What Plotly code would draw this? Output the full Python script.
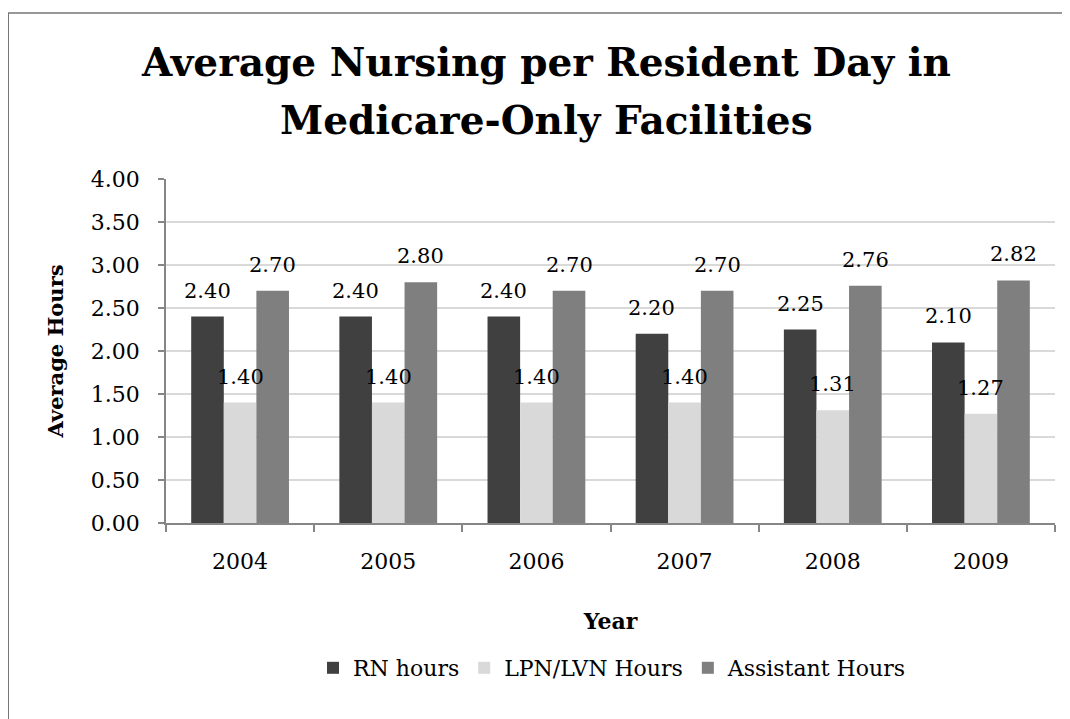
import plotly.graph_objects as go

YEARS = ["2004", "2005", "2006", "2007", "2008", "2009"]
RN_HOURS = [2.40, 2.40, 2.40, 2.20, 2.25, 2.10]
LPN_HOURS = [1.40, 1.40, 1.40, 1.40, 1.31, 1.27]
ASSISTANT_HOURS = [2.70, 2.80, 2.70, 2.70, 2.76, 2.82]

SERIES = [
    ("RN hours", RN_HOURS, "#404040"),
    ("LPN/LVN Hours", LPN_HOURS, "#d9d9d9"),
    ("Assistant Hours", ASSISTANT_HOURS, "#7f7f7f"),
]

FONT = "DejaVu Serif"
OFF = 8  # the page body has an 8px margin
W, H = 1070 - OFF, 719 - OFF
L, R, T, B = 166 - OFF, 15, 179 - OFF, 196
PW, PH = W - L - R, H - T - B
BARGAP = 0.34


def px_x(x):
    return (x - OFF - L) / PW


def px_y(y):
    return (H - B - (y - OFF)) / PH


fig = go.Figure()
for name, values, color in SERIES:
    fig.add_trace(go.Bar(
        x=YEARS,
        y=values,
        name=name,
        marker_color=color,
        marker_line_width=0,
    ))

# value labels as annotations so they sit above the neighbouring bars
# (x given as the category serial number)
bar_w = PW / len(YEARS) * (1 - BARGAP) / len(SERIES)
labels = []
for i, (name, values, color) in enumerate(SERIES):
    for j, v in enumerate(values):
        labels.append(dict(
            x=j, y=v, xref="x", yref="y",
            text=f"{v:.2f}", showarrow=False,
            xshift=(i - 1) * bar_w, yshift=26,
            xanchor="center", yanchor="middle",
            font=dict(family=FONT, size=21, color="black"),
        ))

fig.update_layout(
    width=W,
    height=H,
    template=None,
    paper_bgcolor="white",
    plot_bgcolor="white",
    margin=dict(l=L, r=R, t=T, b=B),
    barmode="group",
    bargap=BARGAP,
    bargroupgap=0,
    font=dict(family=FONT, size=22, color="black"),
    showlegend=True,
    legend=dict(
        orientation="h",
        x=px_x(612), xanchor="center",
        y=px_y(668), yanchor="middle",
        font=dict(family=FONT, size=22),
        itemwidth=30,
        traceorder="normal",
    ),
    xaxis=dict(
        type="category",
        categoryorder="array", categoryarray=YEARS,
        range=[-0.5, len(YEARS) - 0.5],
        showline=True, linecolor="#868686", linewidth=1.5,
        ticks="outside", ticklen=7, tickcolor="#868686", tickwidth=1.5,
        tickson="boundaries",
        tickangle=0,
        showgrid=False,
        tickfont=dict(size=22),
        ticklabelstandoff=18,
        title=dict(text="<b>Year</b>", font=dict(size=22), standoff=40),
    ),
    yaxis=dict(
        range=[0, 4],
        dtick=0.5,
        tickformat=".2f",
        showline=True, linecolor="#868686", linewidth=1.5,
        ticks="outside", ticklen=6, tickcolor="#868686", tickwidth=1.5,
        showgrid=True, gridcolor="#d9d9d9", gridwidth=1.5,
        zeroline=False,
        tickfont=dict(size=22),
        ticklabelstandoff=14,
        title=dict(text="<b>Average Hours</b>", font=dict(size=21), standoff=22),
    ),
    annotations=labels + [
        dict(text="<b>Average Nursing per Resident Day in</b>", xref="paper", yref="paper",
             x=px_x(546), y=px_y(62), xanchor="center", yanchor="middle",
             showarrow=False, font=dict(family=FONT, size=39, color="black")),
        dict(text="<b>Medicare-Only Facilities</b>", xref="paper", yref="paper",
             x=px_x(546), y=px_y(120), xanchor="center", yanchor="middle",
             showarrow=False, font=dict(family=FONT, size=39, color="black")),
    ],
    shapes=[
        dict(type="line", xref="paper", yref="paper",
             x0=px_x(8), x1=px_x(1080), y0=px_y(13), y1=px_y(13),
             line=dict(color="#767676", width=1.5)),
        dict(type="line", xref="paper", yref="paper",
             x0=px_x(8), x1=px_x(8), y0=px_y(13), y1=px_y(730),
             line=dict(color="#767676", width=2)),
    ],
)

fig.write_html("out.html")
